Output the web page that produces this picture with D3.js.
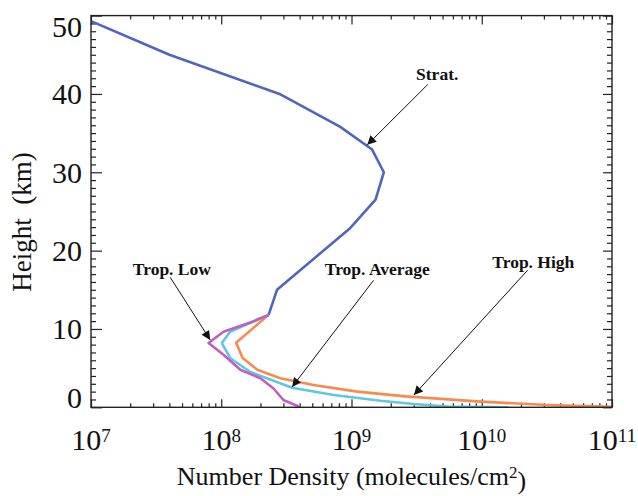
<!DOCTYPE html>
<html>
<head>
<meta charset="utf-8">
<script src="https://cdn.jsdelivr.net/npm/d3@7"></script>
<style>
  body { margin: 0; background: #fff; }
  svg { display: block; }
</style>
</head>
<body>
<svg id="grafico" width="638" height="496"></svg>
<script>
// dados (densidade, altura em km)
const stratDensity = [1.0e7, 4.0e7, 2.8e8, 8.2e8, 1.44e9, 1.77e9, 1.53e9, 9.8e8, 2.68e8, 2.31e8];
const stratHeight  = [49.3, 45, 40, 35.8, 32.9, 30, 26.5, 22.9, 15.0, 11.8];

const highDensity = [2.31e8, 1.30e8, 1.46e8, 1.89e8, 2.84e8, 5.1e8, 1.11e9, 2.6e9, 9.8e9, 3.2e10, 1.0e11];
const highHeight  = [11.8, 8.25, 6.3, 4.8, 3.7, 2.85, 2.0, 1.4, 0.72, 0.3, 0.05];

const avgDensity = [2.31e8, 1.17e8, 1.01e8, 1.17e8, 1.67e8, 3.5e8, 7.3e8, 1.67e9, 3.0e9, 5.5e9, 1.6e10];
const avgHeight  = [11.8, 9.65, 8.2, 6.3, 4.5, 2.5, 1.57, 0.84, 0.42, 0.1, 0.0];

const lowDensity = [2.31e8, 1.72e8, 1.04e8, 8.0e7, 1.04e8, 1.4e8, 2.0e8, 2.52e8, 3.0e8, 4.05e8];
const lowHeight  = [11.8, 10.9, 9.65, 8.2, 6.7, 4.8, 3.7, 2.4, 0.93, 0.0];

// eixos
const xTickExp = [7, 8, 9, 10, 11];
const yTicks = [0, 10, 20, 30, 40, 50];

// anotacoes: texto, posicao do texto, inicio da seta e ponta (em coordenadas de dados)
const annLabels = ["Strat.", "Trop. Low", "Trop. Average", "Trop. High"];
const annText   = [[10 ** 9.658, 41.8], [10 ** 7.621, 16.9], [10 ** 9.198, 16.9], [10 ** 10.396, 17.8]];
const annFrom   = [[10 ** 9.585, 41.2], [10 ** 7.608, 16.6], [10 ** 9.169, 16.2], [10 ** 10.352, 17.5]];
const annTip    = [[10 ** 9.121, 33.5], [10 ** 7.915, 8.6], [10 ** 8.544, 2.6], [10 ** 9.479, 1.57]];

const series = [
    {name: "Strat.", dens: stratDensity, h: stratHeight, color: "#5065c2"},
    {name: "Trop. High", dens: highDensity, h: highHeight, color: "#f98a4e"},
    {name: "Trop. Average", dens: avgDensity, h: avgHeight, color: "#5ec7e2"},
    {name: "Trop. Low", dens: lowDensity, h: lowHeight, color: "#c05ec4"}
];

const margin = {top: 15.6, right: 26, bottom: 88.7, left: 91};
const width = 638 - margin.left - margin.right;
const height = 496 - margin.top - margin.bottom;
const serif = "'Liberation Serif', 'DejaVu Serif', serif";

const svg = d3.select("#grafico");

svg.append("defs").append("marker")
    .attr("id", "seta")
    .attr("viewBox", "0 0 10 10")
    .attr("refX", 10).attr("refY", 5)
    .attr("markerWidth", 11).attr("markerHeight", 9)
    .attr("markerUnits", "userSpaceOnUse")
    .attr("orient", "auto")
    .append("path")
    .attr("d", "M0,0 L10,5 L0,10 z")
    .attr("fill", "#111");

svg.append("clipPath").attr("id", "area")
    .append("rect").attr("width", width).attr("height", height);

const g = svg.append("g")
    .attr("transform", "translate(" + margin.left + "," + margin.top + ")");

const x = d3.scaleLog().domain([1e7, 1e11]).range([0, width]);
const y = d3.scaleLinear().domain([0, 50]).range([height, 0]);

// ticks menores / maiores
const xMajor = xTickExp.map(e => 10 ** e);
const xMinor = [];
xTickExp.slice(0, -1).forEach(e => { for (let k = 2; k <= 9; k++) xMinor.push(k * 10 ** e); });
const yMinor = d3.range(0, 51, 1).filter(v => v % 10 !== 0);

function eixo(axisFn, scale, values, size, transform) {
    const a = g.append("g")
        .attr("transform", transform)
        .call(axisFn(scale).tickValues(values).tickSize(size).tickFormat(""));
    a.select(".domain").remove();
    a.selectAll("line").attr("stroke", "#222").attr("stroke-width", 1.2);
}

eixo(d3.axisBottom, x, xMajor, -8, "translate(0," + height + ")");
eixo(d3.axisBottom, x, xMinor, -4, "translate(0," + height + ")");
eixo(d3.axisTop, x, xMajor, -9, "translate(0,0)");
eixo(d3.axisTop, x, xMinor, -4, "translate(0,0)");
eixo(d3.axisLeft, y, yTicks, -11, "translate(0,0)");
eixo(d3.axisLeft, y, yMinor, -5, "translate(0,0)");
eixo(d3.axisRight, y, yTicks, -9, "translate(" + width + ",0)");
eixo(d3.axisRight, y, yMinor, -5, "translate(" + width + ",0)");

// curvas
const linha = d3.line()
    .x(d => x(d[0]))
    .y(d => y(d[1]));

g.append("g").attr("clip-path", "url(#area)")
    .selectAll("path")
    .data(series)
    .enter()
    .append("path")
    .attr("d", s => linha(s.dens.map((v, i) => [v, s.h[i]])))
    .attr("fill", "none")
    .attr("stroke", s => s.color)
    .attr("stroke-width", 2.6)
    .attr("stroke-linejoin", "round");

// moldura
g.append("rect")
    .attr("width", width).attr("height", height)
    .attr("fill", "none").attr("stroke", "#222").attr("stroke-width", 1.4);

// rotulos eixo X (10 com expoente)
const xl = g.selectAll(".xlabel")
    .data(xTickExp)
    .enter()
    .append("text")
    .attr("x", e => x(10 ** e))
    .attr("y", height + 43)
    .attr("text-anchor", "middle")
    .style("font-family", serif)
    .style("font-size", "30px")
    .attr("fill", "#111");
xl.append("tspan").text("10");
xl.append("tspan").attr("dy", "-0.45em").style("font-size", "19px").text(e => e);

// rotulos eixo Y (extremos deslocados para dentro)
g.selectAll(".ylabel")
    .data(yTicks)
    .enter()
    .append("text")
    .attr("x", -9)
    .attr("y", d => y(d) + (d === 0 ? -10 : d === 50 ? 11 : 0))
    .attr("dy", "0.35em")
    .attr("text-anchor", "end")
    .style("font-family", serif)
    .style("font-size", "30px")
    .attr("fill", "#111")
    .text(d => d);

// titulos
svg.append("text")
    .attr("transform", "translate(31,222) rotate(-90)")
    .attr("text-anchor", "middle")
    .style("font-family", serif)
    .style("font-size", "27px")
    .attr("fill", "#111")
    .text("Height\u00a0\u00a0(km)");

const xt = svg.append("text")
    .attr("x", margin.left + width / 2)
    .attr("y", 485)
    .attr("text-anchor", "middle")
    .style("font-family", serif)
    .style("font-size", "26px")
    .attr("fill", "#111");
xt.append("tspan").text("Number Density (molecules/cm");
xt.append("tspan").attr("dy", "-0.4em").style("font-size", "17px").text("2");
xt.append("tspan").attr("dy", "0.4em").text(")");

// anotacoes com setas
annLabels.forEach((lbl, i) => {
    g.append("text")
        .attr("x", x(annText[i][0]))
        .attr("y", y(annText[i][1]))
        .attr("text-anchor", "middle")
        .style("font-family", serif)
        .style("font-size", "17.5px")
        .style("font-weight", "bold")
        .attr("fill", "#111")
        .text(lbl);
    g.append("line")
        .attr("x1", x(annFrom[i][0])).attr("y1", y(annFrom[i][1]))
        .attr("x2", x(annTip[i][0])).attr("y2", y(annTip[i][1]))
        .attr("stroke", "#111").attr("stroke-width", 1)
        .attr("marker-end", "url(#seta)");
});
</script>
</body>
</html>
